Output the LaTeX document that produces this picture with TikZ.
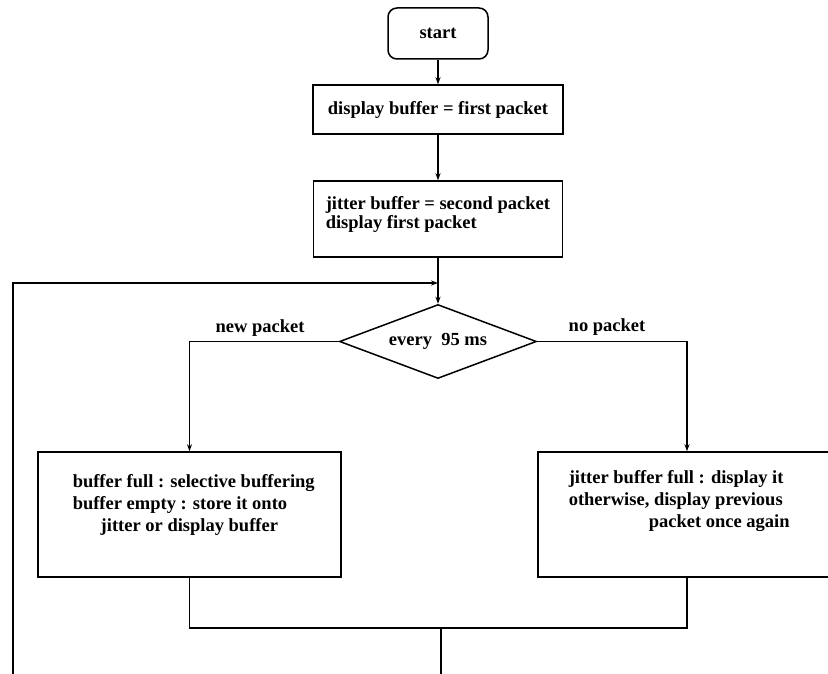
\documentclass[tikz,border=0pt]{standalone}
\usepackage{fontspec}
\setmainfont{Liberation Serif}
\usetikzlibrary{shapes.geometric,arrows.meta}
\begin{document}
\begin{tikzpicture}[x=1pt,y=-1pt,
  line width=1.5pt,
  font=\fontsize{18.5}{22}\selectfont\bfseries,
  box/.style={draw,rectangle,inner sep=0pt},
  txt/.style={inner sep=0pt,align=left,anchor=north west},
  arr/.style={-{Stealth[length=7pt,width=5pt]}}]
\useasboundingbox (0,0) rectangle (828,674);
\clip (0,0) rectangle (828,674);
\node[box,rounded corners=9pt,minimum width=100pt,minimum height=51pt] (start) at (438,33.5) {start};
\node[box,minimum width=250pt,minimum height=49pt] (b1) at (438,109.5) {display buffer = first packet};
\node[box,minimum width=249pt,minimum height=76pt] (b2) at (438,219) {};
\node[txt,font=\fontsize{18.5}{19}\selectfont\bfseries] (t2) at (325,196) {jitter buffer = second packet\\display first packet};
\node[draw,diamond,aspect=2.7,inner sep=0pt,minimum width=197pt,minimum height=74pt] (dia) at (438,341.5) {\raisebox{-3pt}{every\ \ 95 ms}};
\node[inner sep=0pt] (lnew) at (260,328) {new packet};
\node[inner sep=0pt] (lno) at (607,327) {no packet};
\node[box,minimum width=303pt,minimum height=125pt] (b3) at (189.5,514.5) {};
\node[txt] (t3) at (72,474) {buffer full : selective buffering\\buffer empty : store it onto\\\hspace*{28pt}jitter or display buffer};
\node[box,minimum width=298pt,minimum height=125pt] (b4) at (687,514.5) {};
\node[txt] (t4) at (568,470) {jitter buffer full : display it\\otherwise, display previous\\\hspace*{80pt}packet once again};
\draw[arr] (start) -- (b1);
\draw[arr] (b1) -- (b2);
\draw[arr] (b2) -- (dia);
\coordinate (j) at (438,283);
\coordinate (lb) at (13,680);
\draw[arr] (lb) |- (j);
\draw[arr] (dia.west) -| (b3.north);
\draw[arr] (dia.east) -| (b4.north);
\coordinate (m) at (441,628);
\coordinate (out) at (441,680);
\draw (b3.south) |- (m) -| (b4.south);
\draw (m) -- (out);
\end{tikzpicture}
\end{document}
